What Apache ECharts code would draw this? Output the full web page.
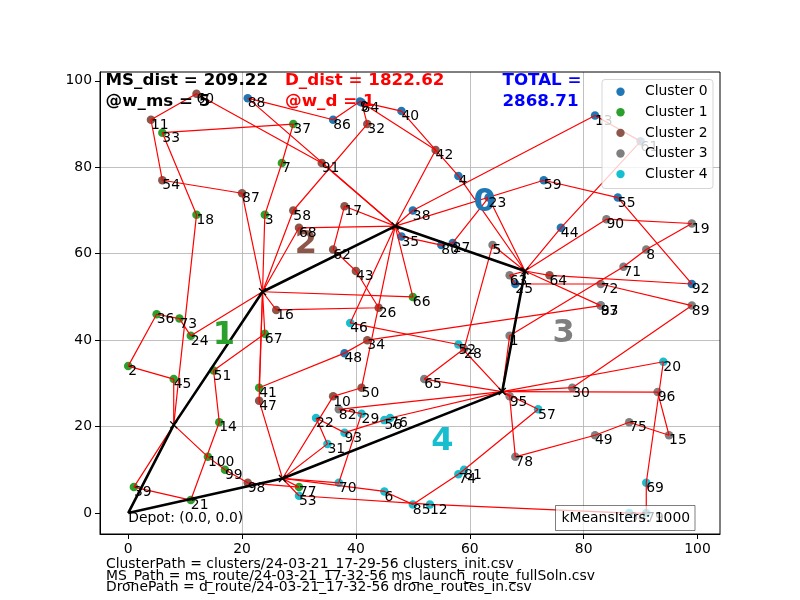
<!DOCTYPE html>
<html><head><meta charset="utf-8">
<script src="https://cdn.jsdelivr.net/npm/echarts@6/dist/echarts.min.js"></script>
<style>html,body{margin:0;padding:0;background:#fff}#c{width:800px;height:600px}</style>
</head><body><div id="c"></div>
<script>
const clusterNames = ['Cluster 0','Cluster 1','Cluster 2','Cluster 3','Cluster 4'];
const clusterColors = ['#1f77b4','#2ca02c','#8c564b','#7f7f7f','#17becf'];

const c0Ids = [88,86,84,9,40,4,38,35,80,27,59,13,61,55,44,92,83,25,48,23];
const c0X   = [21,36,41,40.7,48,58,50,48,55,57,73,82,90,86,76,99,83,68,38,63.3];
const c0Y   = [96,91,95,95.2,93,78,70,64,62,62.5,77,92,86,73,66,53,48,53,37,73];

const c1Ids = [33,18,37,7,3,36,73,24,2,45,51,67,41,14,100,99,39,21,77,66];
const c1X   = [6,12,29,27,24,5,9,11,0,8,15,24,23,16,14,17,1,11,30,50];
const c1Y   = [88,69,90,81,69,46,45,41,34,31,33,41.5,29,21,13,10,6,3,6,50];

const c2Ids = [60,11,54,87,58,68,91,32,42,17,62,43,26,16,34,50,10,47,98,64];
const c2X   = [12,4,6,20,29,30,34,42,54,38,36,40,44,26,42,41,36,23,21,74];
const c2Y   = [97,91,77,74,70,66,81,90,84,71,61,56,47.5,47,40,29,27,26,7,55];

const c3Ids = [5,90,19,8,71,72,89,1,97,63,28,65,95,30,96,75,15,49,78,82];
const c3X   = [64,84,99,91,87,83,99,67,83,67,59,52,67,78,93,88,95,82,68,37];
const c3Y   = [62,68,67,61,57,53,48,41,48,55,38,31,27,29,28,21,18,18,13,24];

const c4Ids = [46,52,20,57,69,94,79,22,93,31,29,56,76,70,6,85,12,81,74,53];
const c4X   = [39,58,94,72,91,88,91,33,38,35,41,45,46,37,45,50,53,59,58,30];
const c4Y   = [44,39,35,24,7,0,0,22,18.6,16,23,21.5,22,7,5,2,2,10,9,4];

const launchNames = ['D','L1','L2','L3','L4','L5','L6'];
const launchX = [0,8.0,23.6,46.9,69.7,65.7,27.1];
const launchY = [0,20.4,51.2,66.4,56.0,28.1,8.0];

const msRoute = ['D','L1','L2','L3','L4','L5','L6','D'];

const droneRoutes = [
  ['L1',45,2,36,73,24,'L2'],
  ['L1',39,21,14,51,67,'L2'],
  ['L1',18,33,37,7,3,'L2'],
  ['L1',100,99,98,77,'L6'],
  ['L2',87,54,11,60,91,'L3'],
  ['L2',58,32,84,42,'L3'],
  ['L2',16,26,43,62,17,'L3'],
  ['L2',68,'L3'],
  ['L2',66,'L3'],
  ['L2',41,48,34,97,83,'L4'],
  ['L3',88,86,9,40,4,'L4'],
  ['L3',38,13,61,44,'L4'],
  ['L3',35,80,27,23,'L4'],
  ['L3',59,55,92,64,'L4'],
  ['L4',90,19,8,71,1,'L5'],
  ['L4',63,25,72,89,30,'L5'],
  ['L4',5,28,65,'L5'],
  ['L3',46,52,'L5'],
  ['L3',50,10,'L6'],
  ['L5',82,29,70,'L6'],
  ['L5',76,56,93,22,31,'L6'],
  ['L5',57,81,74,85,6,'L6'],
  ['L6',53,12,94,79,69,20,'L5'],
  ['L5',96,15,75,49,78,95,'L5'],
  ['L2',47,'L6']
];

const centroidX = [62.6,16.8,31.2,76.5,55.2];
const centroidY = [71.7,41.0,62.2,41.6,16.4];

const xTicks = [0,20,40,60,80,100];
const yTicks = [0,20,40,60,80,100];

const topTexts = [
  {lines:['MS_dist = 209.22','@w_ms = 5'], color:'#000', x:105.5},
  {lines:['D_dist = 1822.62','@w_d = 1'], color:'#ff0000', x:285},
  {lines:['TOTAL =','2868.71'], color:'#0000ff', x:502.5}
];
const bottomTexts = [
  'ClusterPath = clusters/24-03-21_17-29-56 clusters_init.csv',
  'MS_Path = ms_route/24-03-21_17-32-56 ms_launch_route_fullSoln.csv',
  'DronePath = d_route/24-03-21_17-32-56 drone_routes_in.csv'
];
const depotLabel = 'Depot: (0.0, 0.0)';
const itersLabel = 'kMeansIters: 1000';

// ---- build ----
const FONT = '"DejaVu Sans", sans-serif';
const clusters = [
  [c0Ids,c0X,c0Y],[c1Ids,c1X,c1Y],[c2Ids,c2X,c2Y],[c3Ids,c3X,c3Y],[c4Ids,c4X,c4Y]
];
const pos = {};
clusters.forEach(([ids,xs,ys]) => ids.forEach((id,i) => { pos[id] = [xs[i], ys[i]]; }));
launchNames.forEach((n,i) => { pos[n] = [launchX[i], launchY[i]]; });

const series = [];
clusters.forEach(([ids,xs,ys],c) => {
  series.push({
    type:'scatter', name: clusterNames[c], silent:true, z:2,
    symbolSize: 8.5,
    itemStyle:{color: clusterColors[c], opacity:1},
    data: xs.map((x,i) => [x, ys[i]])
  });
});
droneRoutes.forEach(r => {
  series.push({
    type:'line', silent:true, z:3, symbol:'none',
    lineStyle:{color:'#ff0000', width:1.2},
    data: r.map(p => pos[p])
  });
});
series.push({
  type:'scatter', silent:true, z:3,
  symbol:'path://M0,0L10,10M10,0L0,10', symbolSize:7,
  itemStyle:{color:'rgba(0,0,0,0)', borderColor:'#000', borderWidth:1.4, opacity:1},
  data: launchNames.slice(1).map((n,i) => [launchX[i+1], launchY[i+1]])
});
series.push({
  type:'line', silent:true, z:4, symbol:'none',
  lineStyle:{color:'#000', width:2.6},
  data: msRoute.map(p => pos[p])
});
const labelData = [];
clusters.forEach(([ids,xs,ys]) => ids.forEach((id,i) => labelData.push([xs[i], ys[i], String(id)])));
labelData.push([0, 0, depotLabel]);
series.push({
  type:'scatter', silent:true, z:6, symbolSize:1,
  itemStyle:{color:'rgba(0,0,0,0)', opacity:1},
  label:{show:true, position:[0.5,6.1], align:'left', verticalAlign:'middle',
    formatter: p => p.value[2], color:'#000', fontSize:13.9, fontFamily:FONT},
  labelLayout:{hideOverlap:false},
  data: labelData
});
series.push({
  type:'scatter', silent:true, z:5, symbolSize:1,
  itemStyle:{color:'rgba(0,0,0,0)', opacity:1},
  label:{show:true, position:'inside', align:'center', verticalAlign:'middle',
    formatter: p => String(p.dataIndex), fontSize:32, fontWeight:'bold', fontFamily:FONT,
    textBorderWidth:0},
  data: centroidX.map((x,i) => ({value:[x, centroidY[i]], label:{color: clusterColors[i]}}))
});

const graphic = [];
topTexts.forEach(t => {
  t.lines.forEach((ln,k) => {
    graphic.push({type:'text', z:100, x:t.x, y: 80.2 + k*21.7,
      style:{text:ln, fill:t.color, font:'bold 16.7px ' + FONT, align:'left', verticalAlign:'middle'}});
  });
});
bottomTexts.forEach((ln,k) => {
  graphic.push({type:'text', z:100, x:106, y: 564.2 + k*11.8,
    style:{text:ln, fill:'#000', font:'13.9px ' + FONT, align:'left', verticalAlign:'middle'}});
});
// legend
graphic.push({type:'rect', z:100, shape:{x:602, y:79.5, width:111, height:109, r:3},
  style:{fill:'rgba(255,255,255,0.8)', stroke:'rgba(204,204,204,0.8)', lineWidth:1}});
clusterNames.forEach((n,i) => {
  const cy = 91.7 + i*20.6;
  graphic.push({type:'circle', z:101, shape:{cx:620.5, cy:cy, r:4.2}, style:{fill:clusterColors[i]}});
  graphic.push({type:'text', z:101, x:645, y:cy,
    style:{text:n, fill:'#000', font:'13.9px ' + FONT, align:'left', verticalAlign:'middle'}});
});
// kMeans box
graphic.push({type:'rect', z:100, shape:{x:555.5, y:505.5, width:139.5, height:25},
  style:{fill:'rgba(255,255,255,0.7)', stroke:'rgba(0,0,0,0.5)', lineWidth:1}});
graphic.push({type:'text', z:101, x:561.5, y:518,
  style:{text:itersLabel, fill:'#000', font:'13.9px ' + FONT, align:'left', verticalAlign:'middle'}});
// frame
graphic.push({type:'rect', z:99, shape:{x:100, y:72, width:620, height:462},
  style:{fill:'none', stroke:'#000', lineWidth:1}});

const axisCommon = {
  type:'value', splitNumber:5,
  axisLine:{show:true, onZero:false, lineStyle:{color:'#000', width:1}},
  axisTick:{show:true, length:5, lineStyle:{color:'#000', width:1}},
  axisLabel:{color:'#000', fontSize:13.9, fontFamily:FONT, margin:8,
    formatter: v => (Math.abs(v - Math.round(v/20)*20) < 1e-6 ? String(Math.round(v)) : '')},
  splitLine:{show:true, showMinLine:false, showMaxLine:false, lineStyle:{color:'#b0b0b0', width:0.8}}
};

const option = {
  animation:false,
  backgroundColor:'#fff',
  grid:{left:100, top:72, width:620, height:462, show:false},
  xAxis: Object.assign({}, axisCommon, {min:-4.95, max:103.95,
    axisTick: Object.assign({}, axisCommon.axisTick, {customValues: xTicks}),
    axisLabel: Object.assign({}, axisCommon.axisLabel, {customValues: xTicks})}),
  yAxis: Object.assign({}, axisCommon, {min:-4.85, max:102.05,
    axisTick: Object.assign({}, axisCommon.axisTick, {customValues: yTicks}),
    axisLabel: Object.assign({}, axisCommon.axisLabel, {customValues: yTicks})}),
  series: series,
  graphic: graphic
};
const chart = echarts.init(document.getElementById('c'), null, {renderer:'canvas'});
chart.setOption(option);
</script>
</body></html>
